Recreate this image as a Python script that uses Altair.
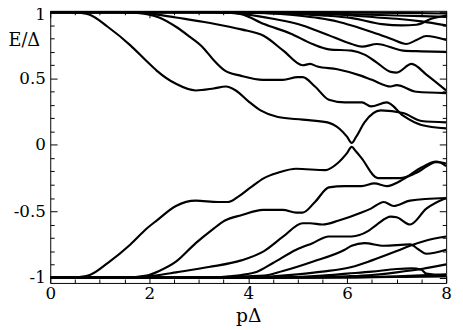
import altair as alt
import pandas as pd

# ---------------- data ----------------
# upper branch curves  (pΔ, E/Δ)
T0_x = [0, 2, 4, 5, 6, 7, 8]
T0_E = [1, 1, 1, 1, 0.998, 0.995, 0.99]
U9_x = [0, 3, 4, 5, 6, 7, 8]
U9_E = [1, 1, 0.998, 0.993, 0.985, 0.975, 0.965]
U8_x = [0, 3, 4, 5, 5.5, 6.1, 6.7, 7.1, 7.4, 7.7, 8]
U8_E = [1, 1, 0.995, 0.985, 0.975, 0.955, 0.91, 0.9, 0.905, 0.95, 0.975]
U7_x = [0, 4, 5, 6.1, 6.6, 7, 7.5, 8]
U7_E = [1, 0.998, 0.99, 0.975, 0.96, 0.95, 0.93, 0.9]
U6_x = [0, 4, 4.5, 5, 5.44, 5.8, 6.09, 6.5, 6.88, 7.2, 7.4, 7.6, 8]
U6_E = [1, 1, 0.99, 0.975, 0.955, 0.93, 0.9, 0.85, 0.8, 0.76, 0.79, 0.82, 0.79]
U5_x = [0, 3.5, 3.92, 4.5, 5.1, 5.6, 6.09, 6.3, 6.6, 7.13, 7.5, 8]
U5_E = [1, 1, 0.985, 0.95, 0.9, 0.83, 0.76, 0.74, 0.76, 0.71, 0.705, 0.7]
U4_x = [0, 3.3, 3.6, 3.86, 4.32, 4.85, 5.3, 5.63, 6.09, 6.35, 6.6, 6.88, 7.0, 7.3, 7.6, 8]
U4_E = [1, 1, 0.995, 0.985, 0.91, 0.84, 0.76, 0.72, 0.71, 0.68, 0.62, 0.55, 0.545, 0.61, 0.53, 0.41]
U3_x = [0, 1.3, 1.8, 2.2, 2.54, 3.2, 3.86, 4.32, 4.71, 5.1, 5.25, 5.4, 5.8, 6.29, 6.5, 6.88, 7.0, 7.4, 8]
U3_E = [1, 1, 0.995, 0.98, 0.96, 0.92, 0.87, 0.82, 0.71, 0.6, 0.61, 0.59, 0.57, 0.52, 0.49, 0.44, 0.45, 0.4, 0.39]
U2_x = [0, 1.5, 1.7, 1.95, 2.2, 2.54, 2.8, 3.07, 3.3, 3.53, 3.86, 4.3, 4.7, 5.0, 5.1, 5.35, 5.63, 5.95, 6.3, 6.48, 6.8, 7.13, 7.5, 8]
U2_E = [1, 1, 0.995, 0.985, 0.96, 0.89, 0.82, 0.74, 0.64, 0.56, 0.52, 0.49, 0.49, 0.51, 0.51, 0.44, 0.34, 0.32, 0.32, 0.29, 0.32, 0.22, 0.15, 0.125]
U1_x = [0, 0.4, 0.6, 0.8, 1.16, 1.62, 1.95, 2.15, 2.54, 2.94, 3.3, 3.55, 3.75, 4.0, 4.25, 4.6, 5.1, 5.6, 5.85, 6.0, 6.09, 6.18, 6.35, 6.68, 7.13, 7.5, 8]
U1_E = [1, 1, 0.995, 0.98, 0.89, 0.75, 0.63, 0.56, 0.46, 0.41, 0.425, 0.44, 0.41, 0.33, 0.26, 0.21, 0.19, 0.17, 0.12, 0.06, 0.015, 0.06, 0.17, 0.26, 0.24, 0.18, 0.17]

# lower branch curves
B0_x = [0, 2, 4, 5, 6, 7, 8]
B0_E = [-1, -1, -1, -1, -0.998, -0.995, -0.99]
L9_x = [0, 6, 7, 8]
L9_E = [-1, -0.998, -0.99, -0.975]
L8_x = [0, 5, 6, 6.5, 7, 7.5, 8]
L8_E = [-1, -0.998, -0.99, -0.98, -0.96, -0.935, -0.9]
L7_x = [0, 4.5, 5, 5.5, 6, 6.5, 7, 7.3, 7.5, 7.6, 8]
L7_E = [-1, -1, -0.995, -0.985, -0.97, -0.955, -0.935, -0.93, -0.94, -0.97, -0.985]
L6_x = [0, 4, 4.5, 5, 5.5, 6.09, 6.5, 7.0, 7.27, 7.6, 8]
L6_E = [-1, -1, -0.99, -0.975, -0.955, -0.92, -0.87, -0.8, -0.76, -0.72, -0.69]
L5_x = [0, 3.5, 3.92, 4.32, 4.7, 5.3, 5.95, 6.09, 6.35, 6.74, 7.27, 7.45, 7.6, 8]
L5_E = [-1, -1, -0.99, -0.985, -0.95, -0.88, -0.79, -0.76, -0.74, -0.76, -0.75, -0.79, -0.82, -0.79]
L4_x = [0, 3.3, 3.6, 3.86, 4.18, 4.5, 4.97, 5.3, 5.63, 6.09, 6.42, 6.6, 6.88, 7.0, 7.27, 7.6, 8]
L4_E = [-1, -1, -0.99, -0.98, -0.955, -0.89, -0.79, -0.74, -0.69, -0.69, -0.65, -0.6, -0.54, -0.545, -0.6, -0.48, -0.4]
L3_x = [0, 1.3, 1.8, 2.2, 2.54, 3.2, 3.86, 4.32, 4.71, 5.1, 5.25, 5.5, 5.83, 6.29, 6.48, 6.74, 6.94, 7.27, 8]
L3_E = [-1, -1, -0.995, -0.98, -0.96, -0.92, -0.87, -0.8, -0.69, -0.59, -0.59, -0.6, -0.57, -0.51, -0.48, -0.43, -0.46, -0.42, -0.4]
L2_x = [0, 1.5, 1.7, 1.95, 2.2, 2.54, 2.94, 3.27, 3.53, 3.86, 4.3, 4.7, 4.97, 5.1, 5.35, 5.63, 5.95, 6.29, 6.55, 6.8, 7.13, 7.5, 7.8, 8]
L2_E = [-1, -1, -0.995, -0.985, -0.95, -0.88, -0.74, -0.64, -0.57, -0.53, -0.49, -0.49, -0.51, -0.51, -0.43, -0.32, -0.31, -0.31, -0.29, -0.31, -0.26, -0.17, -0.125, -0.16]
L1_x = [0, 0.4, 0.6, 0.8, 1.16, 1.62, 1.95, 2.15, 2.54, 2.94, 3.39, 3.6, 3.8, 4.05, 4.32, 4.6, 4.97, 5.56, 5.8, 6.0, 6.09, 6.18, 6.29, 6.62, 7.07, 7.4, 7.8, 8]
L1_E = [-1, -1, -0.995, -0.98, -0.89, -0.75, -0.63, -0.57, -0.46, -0.42, -0.43, -0.43, -0.39, -0.32, -0.25, -0.21, -0.18, -0.19, -0.14, -0.06, -0.015, -0.05, -0.1, -0.25, -0.25, -0.21, -0.13, -0.14]

# axis tick values
x_major = [0, 2, 4, 6, 8]
x_minor = [0.5, 1, 1.5, 2.5, 3, 3.5, 4.5, 5, 5.5, 6.5, 7, 7.5]
y_major = [-1, -0.5, 0, 0.5, 1]
y_minor = [-0.9, -0.8, -0.7, -0.6, -0.4, -0.3, -0.2, -0.1,
           0.1, 0.2, 0.3, 0.4, 0.6, 0.7, 0.8, 0.9]

curves = {
    "T0": (T0_x, T0_E), "U9": (U9_x, U9_E), "U8": (U8_x, U8_E), "U7": (U7_x, U7_E),
    "U6": (U6_x, U6_E), "U5": (U5_x, U5_E), "U4": (U4_x, U4_E), "U3": (U3_x, U3_E),
    "U2": (U2_x, U2_E), "U1": (U1_x, U1_E),
    "B0": (B0_x, B0_E), "L9": (L9_x, L9_E), "L8": (L8_x, L8_E), "L7": (L7_x, L7_E),
    "L6": (L6_x, L6_E), "L5": (L5_x, L5_E), "L4": (L4_x, L4_E), "L3": (L3_x, L3_E),
    "L2": (L2_x, L2_E), "L1": (L1_x, L1_E),
}
rows = []
for name, (xs, es) in curves.items():
    for a, b in zip(xs, es):
        rows.append({"curve": name, "p": a, "E": b})
df = pd.DataFrame(rows)

FONT = "DejaVu Serif"
xscale = alt.Scale(domain=[0, 8], nice=False, zero=False)
yscale = alt.Scale(domain=[-1.04, 1.01], nice=False, zero=False)

W, H = 403, 277

lines = alt.Chart(df).mark_line(
    color="black", strokeWidth=2.2, interpolate="monotone", clip=True
).encode(
    x=alt.X("p:Q", scale=xscale, axis=alt.Axis(
        orient="bottom", values=x_major, tickSize=7, offset=-7, domain=False, grid=False,
        tickColor="black", labelColor="black", labelFont=FONT, labelFontSize=17,
        labelPadding=3, labelFlush=False, labelExpr="'' + datum.value",
        title="pΔ", titleFont=FONT, titleFontSize=19, titleFontWeight="normal",
        titleColor="black", titleX=W / 2, titleY=46, titleAlign="center",
        titleBaseline="alphabetic")),
    y=alt.Y("E:Q", scale=yscale, axis=alt.Axis(
        orient="left", values=y_major, tickSize=7, offset=-7, domain=False, grid=False,
        tickColor="black", labelColor="black", labelFont=FONT, labelFontSize=17,
        labelPadding=5, labelFlush=False, labelExpr="'' + datum.value",
        labelOffset={"condition": {"test": "datum.value == 1", "value": 3}, "value": 0},
        title="E/Δ", titleFont=FONT, titleFontSize=18, titleFontWeight="normal",
        titleColor="black", titleAngle=0, titleX=-50, titleY=30, titleAlign="left",
        titleBaseline="middle")),
    detail="curve:N",
)


def tick_layer(xorient, yorient, xvals, yvals, size):
    return alt.Chart(df).mark_line(strokeOpacity=0).encode(
        x=alt.X("p:Q", scale=xscale, title=None, axis=alt.Axis(
            orient=xorient, values=xvals, tickSize=size, offset=-size, domain=False,
            grid=False, labels=False, tickColor="black")),
        y=alt.Y("E:Q", scale=yscale, title=None, axis=alt.Axis(
            orient=yorient, values=yvals, tickSize=size, offset=-size, domain=False,
            grid=False, labels=False, tickColor="black")),
        detail="curve:N",
    )


chart = alt.layer(
    lines,
    tick_layer("bottom", "left", x_minor, y_minor, 4),
    tick_layer("top", "right", x_major, y_major, 7),
    tick_layer("top", "right", x_minor, y_minor, 4),
).resolve_axis(x="independent", y="independent").properties(
    width=W, height=H,
    padding={"left": 43, "top": 0, "right": 9, "bottom": 44},
    autosize=alt.AutoSizeParams(type="none"),
    background="white",
).configure(
    font=FONT
).configure_axis(
    labelFont=FONT, titleFont=FONT
).configure_view(stroke="black", strokeWidth=1)

chart.save("out.html", embed_options={"renderer": "svg", "actions": False})
